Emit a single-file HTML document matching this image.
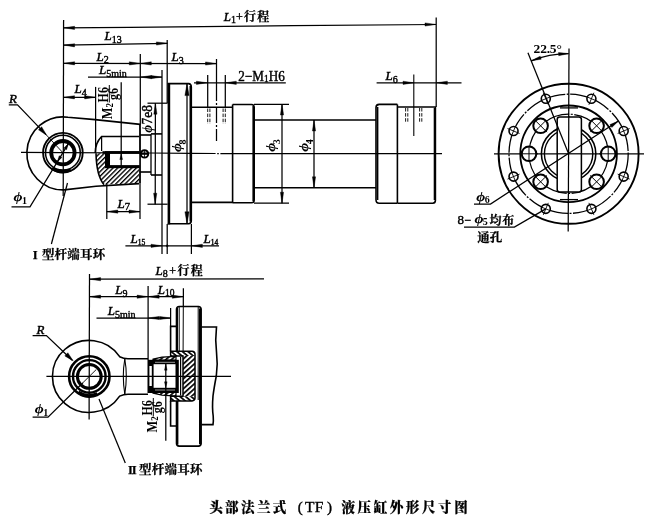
<!DOCTYPE html>
<html lang="zh-CN">
<head>
<meta charset="utf-8">
<title>头部法兰式（TF）液压缸外形尺寸图</title>
<style>
html,body{margin:0;padding:0;background:#fff;}
body{width:650px;height:527px;overflow:hidden;position:relative;}
svg{display:block;position:absolute;left:0;top:0;filter:grayscale(1) blur(0.4px);}
svg *{stroke-linecap:butt;}
text{fill:#000;stroke:#000;stroke-width:0.45px;font-family:"Liberation Serif","Noto Serif CJK SC",serif;}
.it{font-style:italic;}
.rm{font-style:normal;font-weight:normal;stroke-width:0.4px;}
.bi{font-style:italic;font-weight:bold;stroke-width:0;}
.rb{font-style:normal;font-weight:bold;stroke-width:0;}
.cj{font-family:"Liberation Serif","Noto Serif CJK SC",serif;font-weight:bold;font-style:normal;stroke-width:0.25px;}
.ck{font-family:"Liberation Serif","Noto Serif CJK SC",serif;font-weight:900;font-style:normal;stroke-width:0.2px;}
.cn{font-family:"Liberation Serif","Noto Serif CJK SC",serif;font-weight:600;font-style:normal;}
</style>
</head>
<body>
<svg width="650" height="527" viewBox="0 0 650 527">
<rect x="0" y="0" width="650" height="527" fill="#fff" stroke="none"/>
<defs>
<pattern id="hatch" width="3.3" height="3.3" patternUnits="userSpaceOnUse" patternTransform="rotate(-45)">
<rect x="0" y="0" width="3.3" height="1.35" fill="#000" stroke="none"/>
</pattern>
<pattern id="hatch2" width="3.6" height="3.6" patternUnits="userSpaceOnUse" patternTransform="rotate(40)">
<rect x="0" y="0" width="3.6" height="1.7" fill="#000" stroke="none"/>
</pattern>
<pattern id="hatch3" width="3.7" height="3.7" patternUnits="userSpaceOnUse" patternTransform="rotate(-42)">
<rect x="0" y="0" width="3.7" height="1.7" fill="#000" stroke="none"/>
</pattern>
</defs>
<g stroke="#000" fill="none">
<g id="main-view">
<path d="M140.3,124.4 L95,119.6 L67.91,117.26 A36,36.5 0 1 0 64.16,189.88 L96,186.3 L139,183.6" stroke-width="1.6" fill="none" />
<circle cx="62.9" cy="152.7" r="19.8" stroke-width="1.9" fill="none" />
<circle cx="62.9" cy="152.7" r="17.4" stroke-width="1.5" fill="none" />
<circle cx="62.9" cy="152.7" r="11.7" stroke-width="3.8" fill="none" />
<path d="M70.85,169.74 A18.8,18.8 0 0 1 52.12,168.1" stroke-width="3.2" fill="none" />
<line x1="63.6" y1="20" x2="63.2" y2="196" stroke-width="1.25" />
<path d="M139,136.5 L101.6,136.5 Q95.2,143 95.2,153" stroke-width="1.6" fill="none" />
<line x1="101.6" y1="136.5" x2="101.6" y2="151" stroke-width="1.25" />
<line x1="140" y1="124.4" x2="140" y2="183.6" stroke-width="1.8" />
<path d="M96,153.3 L139,153.3 L139,183.6 L104,184.6 Q96.5,176 96,153.3 Z" stroke-width="0" fill="url(#hatch)" stroke="none"/>
<path d="M96,153.3 Q96.5,176 104,184.6" stroke-width="1.6" fill="none" />
<rect x="102.5" y="151.2" width="37" height="2.6" rx="0" stroke-width="0" fill="#000" stroke="none"/>
<rect x="105" y="151.2" width="34.5" height="17" rx="0" stroke-width="0" fill="#000" stroke="none"/>
<rect x="110" y="153.9" width="29.2" height="11.2" rx="0" stroke-width="0" fill="#fff" stroke="none"/>
<circle cx="144.5" cy="153.9" r="3.7" stroke-width="2" fill="none" />
<line x1="140.5" y1="153.9" x2="148.2" y2="153.9" stroke-width="1.8" />
<line x1="144.5" y1="150.3" x2="144.5" y2="157.5" stroke-width="0.8" />
<line x1="140" y1="135" x2="151" y2="135" stroke-width="1.6" />
<line x1="151" y1="133.9" x2="162" y2="133.9" stroke-width="1.6" />
<line x1="140" y1="172" x2="151" y2="172" stroke-width="1.6" />
<line x1="151" y1="175" x2="162" y2="175" stroke-width="1.6" />
<line x1="151" y1="134" x2="151" y2="175" stroke-width="1.3" />
<path d="M167.8,83.6 L188.5,83.6 Q191.3,83.8 191.3,87 L191.3,220.6 Q191.3,223.8 188.5,223.8 L167.8,223.8" stroke-width="1.6" fill="none" />
<line x1="168.9" y1="83" x2="168.9" y2="224.4" stroke-width="2.6" />
<line x1="190.6" y1="86" x2="190.6" y2="221.6" stroke-width="2.2" />
<line x1="187" y1="84" x2="187" y2="223.5" stroke-width="1.25" />
<line x1="191" y1="107.3" x2="232.8" y2="107.3" stroke-width="1.6" />
<line x1="191" y1="202.4" x2="232.8" y2="202.4" stroke-width="1.6" />
<line x1="232.6" y1="104.5" x2="232.6" y2="202.8" stroke-width="1.6" />
<path d="M232.6,104.5 L251.5,104.5 Q254.2,104.7 254.2,107.5 L254.2,200 Q254.2,202.8 251.5,202.8 L232.6,202.8" stroke-width="1.6" fill="none" />
<line x1="253.2" y1="106" x2="253.2" y2="201" stroke-width="1.6" />
<line x1="254" y1="120" x2="376" y2="120" stroke-width="1.6" />
<line x1="254" y1="187.8" x2="376" y2="187.8" stroke-width="1.6" />
<path d="M397.4,104.4 L379.2,104.4 Q376,104.6 376,107.6 L376,199.8 Q376,203.2 379.2,203.2 L397.4,203.2" stroke-width="1.6" fill="none" />
<line x1="377.6" y1="107" x2="377.6" y2="200" stroke-width="1.6" />
<line x1="397.4" y1="104.4" x2="397.4" y2="203.2" stroke-width="1.6" />
<path d="M397.4,107 L435.4,107 L435.4,200.6 Q435.3,203 432.8,203.2 L397.4,203.2" stroke-width="1.6" fill="none" />
<line x1="434.8" y1="108" x2="434.8" y2="200" stroke-width="2.2" />
<line x1="207.7" y1="108.5" x2="207.7" y2="124" stroke-width="0.9" stroke-dasharray="3.5 1.6"/>
<line x1="209.9" y1="108.5" x2="209.9" y2="124" stroke-width="0.9" stroke-dasharray="3.5 1.6"/>
<line x1="223.1" y1="108.5" x2="223.1" y2="124" stroke-width="0.9" stroke-dasharray="3.5 1.6"/>
<line x1="225.3" y1="108.5" x2="225.3" y2="124" stroke-width="0.9" stroke-dasharray="3.5 1.6"/>
<line x1="405.6" y1="108" x2="405.6" y2="123" stroke-width="0.9" stroke-dasharray="3.5 1.6"/>
<line x1="407.8" y1="108" x2="407.8" y2="123" stroke-width="0.9" stroke-dasharray="3.5 1.6"/>
<line x1="419.6" y1="108" x2="419.6" y2="123" stroke-width="0.9" stroke-dasharray="3.5 1.6"/>
<line x1="421.8" y1="108" x2="421.8" y2="123" stroke-width="0.9" stroke-dasharray="3.5 1.6"/>
<line x1="216.5" y1="85" x2="216.5" y2="141" stroke-width="1.25" stroke-dasharray="16 2 2 2"/>
<path d="M21,152.4 L63,152.5 L150,153.0 L190,153.3 L215.6,153.5 M217.2,153.5 L218.8,153.5 M220.4,153.5 L300,153.7 L442,153.6" stroke-width="1.25" fill="none" />
<line x1="413.8" y1="74.6" x2="413.8" y2="136" stroke-width="1.1" />
</g>
<g id="main-dims">
<path d="M63.6,27.8 L130,27.3 L250,26.2 L293,25.6 L436,24.5" stroke-width="1.25" fill="none" />
<polygon points="63.6,27.8 74.61,26.3 74.59,29.5" fill="#000" stroke="#000" stroke-width="0.4"/>
<polygon points="436,24.4 425.01,26.08 424.99,22.88" fill="#000" stroke="#000" stroke-width="0.4"/>
<line x1="436.2" y1="17.5" x2="436.2" y2="107" stroke-width="1.25" />
<text x="223.8" y="20.8" font-size="13" class="it" text-anchor="start" >L<tspan class="rm" font-size="10" dy="2.5">1</tspan><tspan class="rm" font-size="12" dy="-2.5">+</tspan><tspan class="cj" font-size="12" dx="1.2" letter-spacing="1.3">行程</tspan></text>
<line x1="63.6" y1="45.1" x2="167.4" y2="43.3" stroke-width="1.25" />
<polygon points="63.6,45.1 74.63,43.69 74.57,46.89" fill="#000" stroke="#000" stroke-width="0.4"/>
<polygon points="167.4,43.3 156.43,45.09 156.37,41.89" fill="#000" stroke="#000" stroke-width="0.4"/>
<line x1="167.2" y1="40" x2="167.2" y2="103" stroke-width="1.25" />
<text x="104.5" y="40" font-size="13" class="it" text-anchor="start" >L<tspan class="rm" font-size="10" dy="2.5">13</tspan></text>
<line x1="63.6" y1="63.3" x2="216.5" y2="63.5" stroke-width="1.25" />
<polygon points="63.6,63.3 74.6,61.7 74.6,64.9" fill="#000" stroke="#000" stroke-width="0.4"/>
<polygon points="140.3,63.4 129.3,65 129.3,61.8" fill="#000" stroke="#000" stroke-width="0.4"/>
<polygon points="140.3,63.4 151.3,61.8 151.3,65" fill="#000" stroke="#000" stroke-width="0.4"/>
<polygon points="216.5,63.5 205.5,65.1 205.5,61.9" fill="#000" stroke="#000" stroke-width="0.4"/>
<line x1="140.3" y1="54" x2="140.3" y2="125" stroke-width="1.25" />
<line x1="216.5" y1="59" x2="216.5" y2="85" stroke-width="1.25" />
<text x="96.5" y="60.8" font-size="13" class="it" text-anchor="start" >L<tspan class="rm" font-size="10" dy="2.5">2</tspan></text>
<text x="171.5" y="61.3" font-size="13" class="it" text-anchor="start" >L<tspan class="rm" font-size="10" dy="2.5">3</tspan></text>
<line x1="88" y1="77.1" x2="162" y2="77.1" stroke-width="1.25" />
<polygon points="140.3,77.1 151.3,75.5 151.3,78.7" fill="#000" stroke="#000" stroke-width="0.4"/>
<polygon points="162,77.1 151,78.7 151,75.5" fill="#000" stroke="#000" stroke-width="0.4"/>
<line x1="162" y1="70" x2="162" y2="254" stroke-width="1.25" />
<text x="99" y="74" font-size="13" class="it" text-anchor="start" >L<tspan class="rm" font-size="10" dy="2.5">5min</tspan></text>
<line x1="63.5" y1="97.3" x2="95.6" y2="97.3" stroke-width="1.25" />
<polygon points="63.5,97.3 74.5,95.7 74.5,98.9" fill="#000" stroke="#000" stroke-width="0.4"/>
<polygon points="95.6,97.3 84.6,98.9 84.6,95.7" fill="#000" stroke="#000" stroke-width="0.4"/>
<line x1="95.6" y1="86.9" x2="95.6" y2="152" stroke-width="1.25" />
<text x="74.4" y="93" font-size="13" class="it" text-anchor="start" >L<tspan class="rm" font-size="10" dy="2.5">4</tspan></text>
<line x1="121.2" y1="82.3" x2="121.2" y2="166" stroke-width="1.25" />
<polygon points="121.2,154 122.6,159.5 119.8,159.5" fill="#000" stroke="#000" stroke-width="0.4"/>
<text x="0" y="0" font-size="12.5" class="rb" transform="translate(111.8 119.2) rotate(-90) scale(1 1.1)" >M<tspan font-size="9" dy="1.5">2</tspan></text>
<text x="0" y="0" font-size="12" class="rb" transform="translate(108 102.4) rotate(-90) scale(1 1.2)" >H6</text>
<text x="0" y="0" font-size="12" class="rb" transform="translate(118.3 100) rotate(-90) scale(1 1.15)" >g6</text>
<line x1="109.3" y1="85" x2="109.3" y2="102.5" stroke-width="1" />
<line x1="147.5" y1="103.2" x2="167.6" y2="103.2" stroke-width="1.25" />
<line x1="147.5" y1="204.2" x2="167.6" y2="204.2" stroke-width="1.25" />
<line x1="155.4" y1="103.2" x2="155.2" y2="204.2" stroke-width="1.25" />
<polygon points="155.4,103.2 157,114.2 153.8,114.2" fill="#000" stroke="#000" stroke-width="0.4"/>
<polygon points="155.2,204.2 153.6,193.2 156.8,193.2" fill="#000" stroke="#000" stroke-width="0.4"/>
<text x="0" y="0" font-size="13.5" class="rm" transform="translate(151.6 132.8) rotate(-90) scale(1 1.1)" ><tspan class="bi" dx="0">ϕ</tspan><tspan dx="0.6">7e8</tspan></text>
<polygon points="187,83.6 189.1,95.6 184.9,95.6" fill="#000" stroke="#000" stroke-width="0.4"/>
<polygon points="187,223.8 184.9,211.8 189.1,211.8" fill="#000" stroke="#000" stroke-width="0.4"/>
<text x="0" y="-2.49" font-size="13.5" class="bi" transform="translate(183.4 152) rotate(-90) scale(1.15 0.85)">ϕ</text>
<text x="7.6" y="2.6" font-size="10" class="rb" transform="translate(183.4 152) rotate(-90)">8</text>
<line x1="254" y1="104.3" x2="289" y2="104.3" stroke-width="1.25" />
<line x1="254" y1="203.2" x2="289" y2="203.2" stroke-width="1.25" />
<line x1="282" y1="104" x2="282" y2="203.2" stroke-width="1.25" />
<polygon points="282,104 283.6,115 280.4,115" fill="#000" stroke="#000" stroke-width="0.4"/>
<polygon points="282,203.2 280.4,192.2 283.6,192.2" fill="#000" stroke="#000" stroke-width="0.4"/>
<text x="0" y="-2.49" font-size="13.5" class="bi" transform="translate(277 151.8) rotate(-90) scale(1.15 0.85)">ϕ</text>
<text x="7.6" y="2.6" font-size="10" class="rb" transform="translate(277 151.8) rotate(-90)">3</text>
<line x1="314" y1="120" x2="314" y2="187.8" stroke-width="1.25" />
<polygon points="314,120 315.6,131 312.4,131" fill="#000" stroke="#000" stroke-width="0.4"/>
<polygon points="314,187.8 312.4,176.8 315.6,176.8" fill="#000" stroke="#000" stroke-width="0.4"/>
<text x="0" y="-2.49" font-size="13.5" class="bi" transform="translate(310.6 151.8) rotate(-90) scale(1.15 0.85)">ϕ</text>
<text x="7.6" y="2.6" font-size="10" class="rb" transform="translate(310.6 151.8) rotate(-90)">4</text>
<line x1="194" y1="82.8" x2="285.8" y2="82.8" stroke-width="1.25" />
<polygon points="207.4,82.8 196.4,84.4 196.4,81.2" fill="#000" stroke="#000" stroke-width="0.4"/>
<polygon points="225.3,82.8 236.3,81.2 236.3,84.4" fill="#000" stroke="#000" stroke-width="0.4"/>
<line x1="207.7" y1="75" x2="207.7" y2="108" stroke-width="1.25" />
<line x1="225.3" y1="75" x2="225.3" y2="108" stroke-width="1.25" />
<text x="0" y="0" font-size="14" class="rm" transform="translate(238.3 80.6) rotate(0) scale(0.94 1)" >2−M<tspan font-size="10" dy="1.5">1</tspan><tspan dy="-1.5">H6</tspan></text>
<line x1="376.6" y1="82.8" x2="461.5" y2="82.8" stroke-width="1.25" />
<polygon points="414,82.8 403,84.4 403,81.2" fill="#000" stroke="#000" stroke-width="0.4"/>
<polygon points="436.4,82.8 447.4,81.2 447.4,84.4" fill="#000" stroke="#000" stroke-width="0.4"/>
<text x="385.4" y="80" font-size="13" class="it" text-anchor="start" >L<tspan class="rm" font-size="10" dy="2.5">6</tspan></text>
<line x1="125.4" y1="245.8" x2="219" y2="245.8" stroke-width="1.25" />
<polygon points="162,245.8 151,247.4 151,244.2" fill="#000" stroke="#000" stroke-width="0.4"/>
<polygon points="191.4,245.8 202.4,244.2 202.4,247.4" fill="#000" stroke="#000" stroke-width="0.4"/>
<line x1="167.2" y1="224" x2="167.2" y2="254" stroke-width="1.25" />
<line x1="191.4" y1="224" x2="191.4" y2="254" stroke-width="1.25" />
<circle cx="167.2" cy="245.8" r="1" stroke-width="0.5" fill="#000" />
<text x="130.5" y="243" font-size="13" class="it" text-anchor="start" >L<tspan class="rm" font-size="7.5" dy="2">15</tspan></text>
<text x="203.5" y="243" font-size="13" class="it" text-anchor="start" >L<tspan class="rm" font-size="7.5" dy="2">14</tspan></text>
<line x1="106.8" y1="184" x2="106.8" y2="219" stroke-width="1.25" />
<line x1="140" y1="183.6" x2="140" y2="219" stroke-width="1.25" />
<line x1="106.8" y1="211.6" x2="140" y2="211.6" stroke-width="1.25" />
<polygon points="106.8,211.6 117.8,210 117.8,213.2" fill="#000" stroke="#000" stroke-width="0.4"/>
<polygon points="140,211.6 129,213.2 129,210" fill="#000" stroke="#000" stroke-width="0.4"/>
<text x="117.5" y="207.6" font-size="13" class="it" text-anchor="start" >L<tspan class="rm" font-size="10.5" dy="2.5">7</tspan></text>
<text x="9" y="102.9" font-size="13" class="it" text-anchor="start" >R</text>
<path d="M8.8,104.8 L17.5,104.8 L46,134.6" stroke-width="1.25" fill="none" />
<polygon points="46.6,135.2 38.45,129.85 41.63,126.81" fill="#000" stroke="#000" stroke-width="0.4"/>
<line x1="46" y1="134.6" x2="62.9" y2="152.7" stroke-width="0.9" />
<text x="0" y="-2.49" font-size="13.5" class="bi" transform="translate(13.6 203) rotate(0) scale(1.15 0.85)">ϕ</text>
<text x="8.4" y="0.6" font-size="10" class="rb" transform="translate(13.6 203) rotate(0)">1</text>
<path d="M11.5,206.8 L30,206.8 L68.09,144.15" stroke-width="1.25" fill="none" />
<polygon points="68.35,143.72 66.6,149.68 63.87,148.02" fill="#000" stroke="#000" stroke-width="0.4"/>
<polygon points="57.45,161.68 59.2,155.72 61.93,157.38" fill="#000" stroke="#000" stroke-width="0.4"/>
<line x1="67.5" y1="183" x2="51.4" y2="244" stroke-width="1.25" />
<text x="32.8" y="258.8" font-size="12.5" class="cj" text-anchor="start" letter-spacing="0.2">I<tspan dx="4">型杆端耳环</tspan></text>
</g>
<g id="end-view">
<line x1="494" y1="153.8" x2="644" y2="153.8" stroke-width="1.25" />
<line x1="569" y1="48.4" x2="568.2" y2="231.6" stroke-width="1.25" />
<circle cx="568.6" cy="153.8" r="70" stroke-width="1.9" fill="none" />
<circle cx="568.6" cy="153.8" r="59.6" stroke-width="1.3" fill="none" stroke-dasharray="42 1.5 2 1.5"/>
<circle cx="568.6" cy="153.8" r="48.3" stroke-width="1.8" fill="none" />
<circle cx="568.6" cy="153.8" r="39.6" stroke-width="1.2" fill="none" stroke-dasharray="27 1.5 2 1.5"/>
<circle cx="568.6" cy="153.8" r="27.2" stroke-width="1.6" fill="none" />
<circle cx="568.6" cy="153.8" r="24.2" stroke-width="1.4" fill="none" />
<line x1="560" y1="107.9" x2="578" y2="107.9" stroke-width="1.3" />
<line x1="560" y1="199.6" x2="578" y2="199.6" stroke-width="1.3" />
<rect x="557.2" y="117" width="24.2" height="75" rx="2.5" stroke-width="1.5" fill="#fff" />
<line x1="557" y1="153.8" x2="581.5" y2="153.8" stroke-width="1.25" />
<line x1="568.8" y1="116" x2="568.4" y2="192" stroke-width="1.25" />
<circle cx="591.41" cy="98.74" r="4.5" stroke-width="1.6" fill="#fff" />
<line x1="588.92" y1="104.74" x2="593.9" y2="92.73" stroke-width="0.9" />
<line x1="587.25" y1="97.01" x2="595.57" y2="100.46" stroke-width="0.9" />
<circle cx="623.66" cy="130.99" r="4.5" stroke-width="1.6" fill="#fff" />
<line x1="617.66" y1="133.48" x2="629.67" y2="128.5" stroke-width="0.9" />
<line x1="621.94" y1="126.83" x2="625.39" y2="135.15" stroke-width="0.9" />
<circle cx="623.66" cy="176.61" r="4.5" stroke-width="1.6" fill="#fff" />
<line x1="617.66" y1="174.12" x2="629.67" y2="179.1" stroke-width="0.9" />
<line x1="625.39" y1="172.45" x2="621.94" y2="180.77" stroke-width="0.9" />
<circle cx="591.41" cy="208.86" r="4.5" stroke-width="1.6" fill="#fff" />
<line x1="588.92" y1="202.86" x2="593.9" y2="214.87" stroke-width="0.9" />
<line x1="595.57" y1="207.14" x2="587.25" y2="210.59" stroke-width="0.9" />
<circle cx="545.79" cy="208.86" r="4.5" stroke-width="1.6" fill="#fff" />
<line x1="548.28" y1="202.86" x2="543.3" y2="214.87" stroke-width="0.9" />
<line x1="549.95" y1="210.59" x2="541.63" y2="207.14" stroke-width="0.9" />
<circle cx="513.54" cy="176.61" r="4.5" stroke-width="1.6" fill="#fff" />
<line x1="519.54" y1="174.12" x2="507.53" y2="179.1" stroke-width="0.9" />
<line x1="515.26" y1="180.77" x2="511.81" y2="172.45" stroke-width="0.9" />
<circle cx="513.54" cy="130.99" r="4.5" stroke-width="1.6" fill="#fff" />
<line x1="519.54" y1="133.48" x2="507.53" y2="128.5" stroke-width="0.9" />
<line x1="511.81" y1="135.15" x2="515.26" y2="126.83" stroke-width="0.9" />
<circle cx="545.79" cy="98.74" r="4.5" stroke-width="1.6" fill="#fff" />
<line x1="548.28" y1="104.74" x2="543.3" y2="92.73" stroke-width="0.9" />
<line x1="541.63" y1="100.46" x2="549.95" y2="97.01" stroke-width="0.9" />
<circle cx="596.6" cy="125.8" r="7.3" stroke-width="2.0" fill="#fff" />
<line x1="590.24" y1="132.16" x2="602.97" y2="119.43" stroke-width="1.0" />
<line x1="591.44" y1="120.64" x2="601.76" y2="130.96" stroke-width="1.0" />
<circle cx="608.2" cy="153.8" r="7.3" stroke-width="2.0" fill="#fff" />
<line x1="599.2" y1="153.8" x2="617.2" y2="153.8" stroke-width="1.0" />
<line x1="608.2" y1="146.5" x2="608.2" y2="161.1" stroke-width="1.0" />
<circle cx="596.6" cy="181.8" r="7.3" stroke-width="2.0" fill="#fff" />
<line x1="590.24" y1="175.44" x2="602.97" y2="188.17" stroke-width="1.0" />
<line x1="601.76" y1="176.64" x2="591.44" y2="186.96" stroke-width="1.0" />
<circle cx="540.6" cy="181.8" r="7.3" stroke-width="2.0" fill="#fff" />
<line x1="546.96" y1="175.44" x2="534.23" y2="188.17" stroke-width="1.0" />
<line x1="545.76" y1="186.96" x2="535.44" y2="176.64" stroke-width="1.0" />
<circle cx="529" cy="153.8" r="7.3" stroke-width="2.0" fill="#fff" />
<line x1="538" y1="153.8" x2="520" y2="153.8" stroke-width="1.0" />
<line x1="529" y1="161.1" x2="529" y2="146.5" stroke-width="1.0" />
<circle cx="540.6" cy="125.8" r="7.3" stroke-width="2.0" fill="#fff" />
<line x1="546.96" y1="132.16" x2="534.23" y2="119.43" stroke-width="1.0" />
<line x1="535.44" y1="130.96" x2="545.76" y2="120.64" stroke-width="1.0" />
<line x1="568.6" y1="153.8" x2="527.94" y2="52.67" stroke-width="1.25" />
<path d="M531.23,60.83 A100.2,100.2 0 0 1 568.6,53.6" stroke-width="1.25" fill="none" />
<polygon points="531.23,60.83 540.2,56.14 541.22,59.18" fill="#000" stroke="#000" stroke-width="0.4"/>
<polygon points="568.6,53.6 558.7,55.72 558.53,52.53" fill="#000" stroke="#000" stroke-width="0.4"/>
<text x="533.6" y="52.6" font-size="13.5" class="rb" text-anchor="start" letter-spacing="-0.2">22.5°</text>
<path d="M474,204 L490.5,204 L618.41,121.08" stroke-width="1.25" fill="none" />
<polygon points="618.41,121.08 611.83,127.44 609.96,124.6" fill="#000" stroke="#000" stroke-width="0.4"/>
<text x="0" y="-2.49" font-size="13.5" class="bi" transform="translate(476.3 202.8) rotate(0) scale(1.15 0.85)">ϕ</text>
<text x="8.4" y="0.6" font-size="10" class="rb" transform="translate(476.3 202.8) rotate(0)">6</text>
<path d="M464,227 L514.4,227 L545.79,208.86" stroke-width="1.25" fill="none" />
<text x="457.4" y="224.4" font-size="13" class="rm" text-anchor="start" >8</text>
<text x="464.6" y="224" font-size="12" class="rm" text-anchor="start" >−</text>
<text x="0" y="-2.49" font-size="13.5" class="bi" transform="translate(474.4 224.8) rotate(0) scale(1.15 0.85)">ϕ</text>
<text x="8.4" y="0.6" font-size="10" class="rb" transform="translate(474.4 224.8) rotate(0)">5</text>
<text x="489.6" y="224.6" font-size="12" class="cj" text-anchor="start" letter-spacing="0.6">均布</text>
<text x="477.3" y="241.5" font-size="12.5" class="cj" text-anchor="start" >通孔</text>
</g>
<g id="lower-view">
<path d="M148,358.7 L128,358.7 Q123.5,358.7 119.66,356.68 A36.6,36.0 0 1 0 119.66,396.12 Q123.5,394.2 128,394.2 L148,394.2" stroke-width="1.6" fill="none" />
<path d="M124.8,359 Q121.8,376 124.8,394" stroke-width="1.1" fill="none" />
<path d="M124.8,359 Q127.8,376 124.8,394" stroke-width="1.1" fill="none" />
<circle cx="89.3" cy="376.4" r="20.2" stroke-width="2.6" fill="none" />
<circle cx="89.3" cy="376.4" r="16.3" stroke-width="2.4" fill="none" />
<circle cx="89.3" cy="376.4" r="11.9" stroke-width="3.0" fill="none" />
<path d="M97.41,393.8 A19.2,19.2 0 0 1 78.29,392.13" stroke-width="3.2" fill="none" />
<rect x="147.5" y="359.8" width="31.3" height="33.2" rx="0" stroke-width="0" fill="#000" stroke="none"/>
<rect x="153.6" y="364.2" width="21.9" height="23.6" rx="0" stroke-width="0" fill="#fff" stroke="none"/>
<rect x="149.4" y="366" width="2.4" height="20" rx="0" stroke-width="0" fill="#fff" stroke="none"/>
<line x1="155" y1="362.3" x2="175" y2="362.3" stroke-width="0.6" stroke="#fff"/>
<line x1="155" y1="390" x2="175" y2="390" stroke-width="0.6" stroke="#fff"/>
<path d="M153,359.2 L162,357.2 L176,356.3 L176,360.2 L153,360.2 Z" stroke-width="1.2" fill="url(#hatch3)" />
<path d="M153,393.2 L162,395.2 L176,396 L176,392.2 L153,392.2 Z" stroke-width="1.2" fill="url(#hatch3)" />
<path d="M170.6,351.3 L192,351.3 Q195,351.5 195,354.3 L195,398 Q195,400.7 192,400.9 L170.6,400.9 L170.6,396.2 L183,396.2 L183,356 L170.6,356 Z" stroke-width="0" fill="#fff" stroke="none"/>
<path d="M170.6,351.3 L192,351.3 Q195,351.5 195,354.3 L195,356 L170.6,356 Z" stroke-width="0" fill="url(#hatch2)" stroke="none"/>
<path d="M170.6,396.2 L195,396.2 L195,398 Q195,400.7 192,400.9 L170.6,400.9 Z" stroke-width="0" fill="url(#hatch2)" stroke="none"/>
<path d="M183,356 L195,356 L195,396.2 L183,396.2 Z" stroke-width="0" fill="url(#hatch3)" stroke="none"/>
<path d="M170.6,351.3 L192,351.3 Q195,351.5 195,354.3 L195,398 Q195,400.7 192,400.9 L170.6,400.9 L170.6,396.2 L183,396.2 L183,356 L170.6,356 Z" stroke-width="1.5" fill="none" />
<line x1="180.6" y1="357" x2="180.6" y2="395.4" stroke-width="1.2" />
<path d="M176.5,351.3 L176.5,309.2 Q176.6,306.6 179.2,306.5 L198.4,306.5 Q201,306.7 201.1,309.2 L201.1,443.4 Q201,446 198.4,446.1 L179.2,446.1 Q176.6,446 176.5,443.4 L176.5,400.9" stroke-width="1.6" fill="none" />
<line x1="177" y1="308" x2="177" y2="351.3" stroke-width="2.0" />
<line x1="179.2" y1="307" x2="179.2" y2="351.3" stroke-width="1.0" />
<line x1="177.2" y1="400.9" x2="177.2" y2="444.6" stroke-width="2.4" />
<line x1="183.3" y1="307" x2="183.1" y2="351.3" stroke-width="1.0" />
<line x1="198.2" y1="307" x2="198.2" y2="400" stroke-width="1.0" />
<line x1="200.2" y1="308.5" x2="200.2" y2="444.2" stroke-width="2.4" />
<path d="M176.5,326.4 L170.6,326.4 L170.6,351.3" stroke-width="1.6" fill="none" />
<path d="M176.5,426 L170.6,426 L170.6,400.9" stroke-width="1.6" fill="none" />
<path d="M201.5,327 L216.5,327 Q215,340 216.5,352 Q218,364 216.3,376 Q214,388 213,396 Q212,408 213.2,416 Q213.6,421 213,424.6 L201.5,424.6" stroke-width="1.6" fill="none" />
<line x1="46.4" y1="376.4" x2="231" y2="376.4" stroke-width="1.25" />
<line x1="89.5" y1="274" x2="89.1" y2="419.5" stroke-width="1.25" />
</g>
<g id="lower-dims">
<line x1="89.6" y1="279.2" x2="264" y2="278.8" stroke-width="1.25" />
<polygon points="89.6,279.2 100.6,277.6 100.6,280.8" fill="#000" stroke="#000" stroke-width="0.4"/>
<text x="155.4" y="275.2" font-size="13" class="it" text-anchor="start" >L<tspan class="rm" font-size="10" dy="2">8</tspan><tspan class="rm" font-size="12" dy="-2" dx="1.5">+</tspan><tspan class="cj" font-size="12" dx="1.5" letter-spacing="1.3">行程</tspan></text>
<line x1="89.6" y1="296.7" x2="183.3" y2="296.7" stroke-width="1.25" />
<polygon points="89.6,296.7 100.6,295.1 100.6,298.3" fill="#000" stroke="#000" stroke-width="0.4"/>
<polygon points="148.1,296.7 137.1,298.3 137.1,295.1" fill="#000" stroke="#000" stroke-width="0.4"/>
<polygon points="148.1,296.7 159.1,295.1 159.1,298.3" fill="#000" stroke="#000" stroke-width="0.4"/>
<polygon points="183.3,296.7 172.3,298.3 172.3,295.1" fill="#000" stroke="#000" stroke-width="0.4"/>
<line x1="148.1" y1="286" x2="148.1" y2="360" stroke-width="1.25" />
<line x1="183.4" y1="288.2" x2="183.3" y2="307" stroke-width="1.25" />
<text x="115.3" y="294.3" font-size="13" class="it" text-anchor="start" >L<tspan class="rm" font-size="10" dy="2.5">9</tspan></text>
<text x="157.8" y="294.3" font-size="13" class="it" text-anchor="start" >L<tspan class="rm" font-size="9.5" dy="2">10</tspan></text>
<line x1="96.5" y1="318" x2="170.6" y2="318" stroke-width="1.25" />
<polygon points="148.1,318 159.1,316.4 159.1,319.6" fill="#000" stroke="#000" stroke-width="0.4"/>
<polygon points="170.6,318 159.6,319.6 159.6,316.4" fill="#000" stroke="#000" stroke-width="0.4"/>
<line x1="170.6" y1="308" x2="170.6" y2="326.4" stroke-width="1.25" />
<text x="107.8" y="315" font-size="13" class="it" text-anchor="start" >L<tspan class="rm" font-size="10" dy="2.5">5min</tspan></text>
<line x1="165.8" y1="364" x2="165.8" y2="440.7" stroke-width="1.25" />
<polygon points="165.8,364.2 167.1,370.2 164.5,370.2" fill="#000" stroke="#000" stroke-width="0.4"/>
<polygon points="165.8,387.8 164.5,381.8 167.1,381.8" fill="#000" stroke="#000" stroke-width="0.4"/>
<text x="0" y="0" font-size="12.5" class="rb" transform="translate(156.5 432.5) rotate(-90) scale(1 1.1)" >M<tspan font-size="9" dy="1.5">2</tspan></text>
<text x="0" y="0" font-size="12" class="rb" transform="translate(152 415.6) rotate(-90) scale(1 1.2)" >H6</text>
<text x="0" y="0" font-size="12" class="rb" transform="translate(162.3 413.2) rotate(-90) scale(1 1.15)" >g6</text>
<line x1="153.3" y1="398" x2="153.3" y2="416.5" stroke-width="1" />
<text x="36.5" y="333.8" font-size="13" class="it" text-anchor="start" >R</text>
<path d="M32.6,335.6 L46.4,335.6 L72.3,360.3" stroke-width="1.25" fill="none" />
<polygon points="73.2,360.9 64.8,355.94 67.84,352.76" fill="#000" stroke="#000" stroke-width="0.4"/>
<text x="0" y="-2.49" font-size="13.5" class="bi" transform="translate(34.8 415.6) rotate(0) scale(1.15 0.85)">ϕ</text>
<text x="8.4" y="0.6" font-size="10" class="rb" transform="translate(34.8 415.6) rotate(0)">1</text>
<path d="M32.6,417.2 L48,417.2 L82.9,382.73" stroke-width="1.25" fill="none" />
<line x1="82.9" y1="382.73" x2="96.41" y2="369.37" stroke-width="0.9" />
<line x1="99" y1="399" x2="125.3" y2="463" stroke-width="1.25" />
<text x="128" y="474" font-size="12.5" class="cj" text-anchor="start" letter-spacing="0.3"><tspan letter-spacing="-1">II</tspan><tspan dx="3.2">型杆端耳环</tspan></text>
</g>
<text x="209.2" y="512.2" font-size="13.5" class="ck" text-anchor="start" letter-spacing="2.4">头部法兰式</text>
<text x="297.8" y="511.8" font-size="15" class="rm" text-anchor="start" >(</text>
<text x="305" y="512.2" font-size="15.5" class="rm" text-anchor="start" letter-spacing="0.3">TF</text>
<text x="327" y="511.8" font-size="15" class="rm" text-anchor="start" >)</text>
<text x="341.4" y="512.2" font-size="13.5" class="ck" text-anchor="start" letter-spacing="2.62">液压缸外形尺寸图</text>
</g>
</svg>
</body>
</html>
